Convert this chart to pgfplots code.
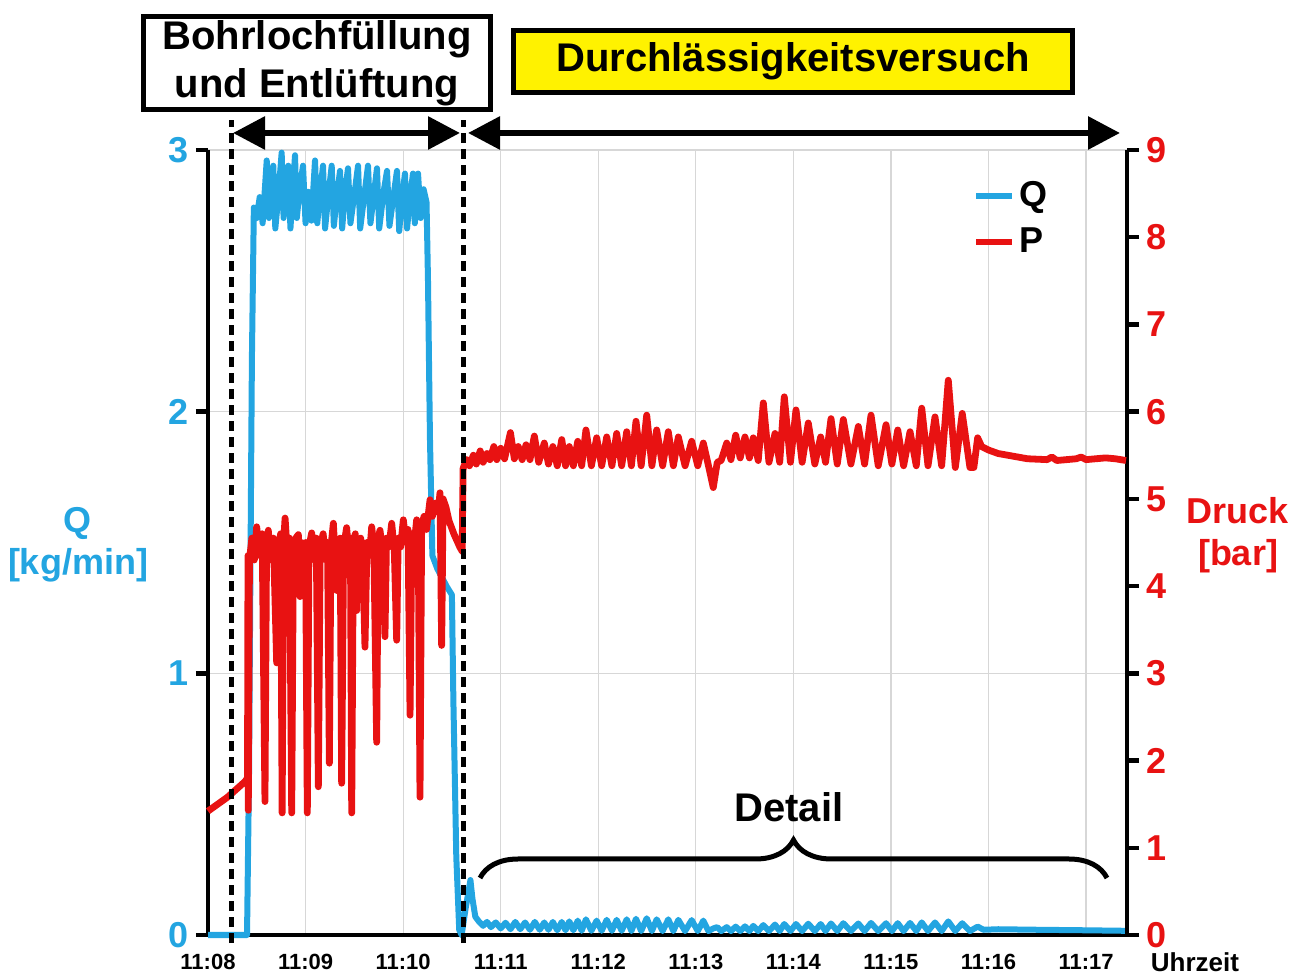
\documentclass[border=0pt]{standalone}
\usepackage{pgfplots}
\pgfplotsset{compat=1.18}
\usepackage{fontspec}
\setmainfont{Liberation Sans}
\usetikzlibrary{arrows.meta,decorations.pathreplacing}
\definecolor{qblue}{RGB}{35,165,225}
\definecolor{pred}{RGB}{232,18,18}
\definecolor{gridgray}{RGB}{215,215,215}
\begin{document}
\begin{tikzpicture}[font=\bfseries]
\useasboundingbox (-104bp,-20.5bp) rectangle (549bp,467.5bp);
\begin{axis}[
  at={(0,0)}, anchor=south west, scale only axis,
  width=459.5bp, height=392.5bp,
  xmin=0, xmax=9.42, ymin=0, ymax=3,
  axis x line*=bottom, axis y line*=left,
  axis line style={black, line width=2.2bp},
  xtick={0,...,9},
  xticklabels={11:08,11:09,11:10,11:11,11:12,11:13,11:14,11:15,11:16,11:17},
  xticklabel style={font=\bfseries\fontsize{11bp}{13bp}\selectfont},
  x tick style={draw=none},
  ytick={0,1,2,3},
  y tick style={black, line width=2.2bp},
  tick align=outside, major tick length=6bp,
  yticklabel style={font=\bfseries\fontsize{18bp}{20bp}\selectfont, text=qblue},
  /pgf/number format/assume math mode=true,
  xmajorgrids, ymajorgrids,
  major grid style={gridgray, line width=0.6bp},
  clip=false,
]
\addplot[qblue, line width=3bp, line join=round] coordinates {
(0.00,0.00) (0.40,0.00) (0.42,0.6) (0.45,2.2) (0.47,2.78) (0.50,2.74) (0.53,2.82) (0.56,2.72)
(0.602,2.96) (0.625,2.74) (0.645,2.85) (0.669,2.94) (0.69,2.70) (0.72,2.82) (0.755,2.99) (0.775,2.74)
(0.80,2.84) (0.823,2.94) (0.845,2.70) (0.865,2.82) (0.892,2.98) (0.91,2.74) (0.94,2.85) (0.974,2.94)
(1.00,2.72) (1.03,2.84) (1.06,2.73) (1.097,2.96) (1.12,2.72) (1.15,2.84) (1.179,2.94) (1.20,2.70)
(1.235,2.83) (1.268,2.94) (1.29,2.71) (1.32,2.82) (1.353,2.92) (1.375,2.70) (1.405,2.84) (1.435,2.93)
(1.46,2.72) (1.50,2.83) (1.538,2.94) (1.56,2.70) (1.60,2.82) (1.640,2.94) (1.665,2.72) (1.70,2.83)
(1.732,2.93) (1.755,2.70) (1.80,2.84) (1.835,2.92) (1.86,2.71) (1.90,2.82) (1.937,2.92) (1.96,2.69)
(1.99,2.82) (2.019,2.91) (2.04,2.70) (2.075,2.83) (2.101,2.91) (2.12,2.72) (2.153,2.91) (2.18,2.74)
(2.21,2.85) (2.24,2.80) (2.255,2.50) (2.275,1.90) (2.30,1.45) (2.35,1.40) (2.45,1.33) (2.50,1.30)
(2.515,0.90) (2.545,0.30) (2.575,0.02) (2.60,0.00) (2.64,0.10) (2.69,0.21) (2.71,0.14) (2.74,0.07)
(2.78,0.050) (2.82,0.035) (2.86,0.050) (2.90,0.030) (2.95,0.048) (3.00,0.025) (3.05,0.047) (3.10,0.022)
(3.15,0.050) (3.20,0.022) (3.25,0.048) (3.30,0.020) (3.35,0.050) (3.40,0.020) (3.447,0.048) (3.49,0.020)
(3.535,0.050) (3.58,0.018) (3.626,0.050) (3.665,0.018) (3.703,0.052) (3.745,0.018) (3.79,0.055) (3.83,0.016)
(3.874,0.060) (3.93,0.016) (3.984,0.055) (4.035,0.016) (4.087,0.058) (4.14,0.016) (4.189,0.058) (4.24,0.016)
(4.292,0.060) (4.34,0.015) (4.387,0.062) (4.44,0.015) (4.497,0.064) (4.55,0.015) (4.599,0.060) (4.66,0.015)
(4.718,0.060) (4.77,0.015) (4.821,0.058) (4.89,0.015) (4.958,0.057) (5.02,0.015) (5.077,0.055) (5.13,0.015)
(5.179,0.025) (5.22,0.030) (5.26,0.015) (5.317,0.030) (5.36,0.015) (5.409,0.032) (5.455,0.015) (5.504,0.033)
(5.55,0.015) (5.589,0.035) (5.64,0.015) (5.692,0.038) (5.75,0.015) (5.812,0.040) (5.86,0.015) (5.907,0.042)
(5.97,0.015) (6.027,0.042) (6.09,0.015) (6.153,0.043) (6.22,0.015) (6.280,0.042) (6.33,0.015) (6.386,0.044)
(6.45,0.015) (6.512,0.045) (6.59,0.015) (6.666,0.044) (6.73,0.015) (6.796,0.046) (6.87,0.015) (6.950,0.045)
(7.01,0.015) (7.070,0.045) (7.13,0.015) (7.196,0.046) (7.26,0.015) (7.316,0.048) (7.38,0.015) (7.452,0.048)
(7.52,0.015) (7.588,0.052) (7.66,0.015) (7.731,0.045) (7.81,0.015) (7.889,0.032) (7.95,0.020) (8.10,0.022)
(8.50,0.020) (9.00,0.018) (9.41,0.016)
};
\end{axis}
\begin{axis}[
  at={(0,0)}, anchor=south west, scale only axis,
  width=459.5bp, height=392.5bp,
  xmin=0, xmax=9.42, ymin=0, ymax=9,
  axis x line=none, axis y line*=right,
  axis line style={black, line width=2.2bp},
  ytick={0,...,9},
  y tick style={black, line width=2.2bp},
  tick align=outside, major tick length=6bp,
  yticklabel style={font=\bfseries\fontsize{18bp}{20bp}\selectfont, text=pred},
  /pgf/number format/assume math mode=true,
  clip=false,
  legend style={draw=none, fill=none, at={(0.832,0.965)}, anchor=north west,
    font=\bfseries\fontsize{18bp}{20bp}\selectfont, row sep=5bp, inner sep=0pt},
  legend cell align=left,
  legend image code/.code={\draw[#1, line width=3bp] (0bp,0bp) -- (18bp,0bp);},
]
\addlegendimage{qblue}
\addlegendentry{Q}
\addplot[pred, line width=3.4bp, line join=round] coordinates {
(0.00,1.42) (0.20,1.58) (0.38,1.76) (0.405,1.80) (0.41,4.35) (0.413,1.43) (0.425,4.30) (0.45,4.55)
(0.475,4.30) (0.499,4.68) (0.53,4.35) (0.555,4.60) (0.584,1.53) (0.60,4.40) (0.618,4.64) (0.645,4.30)
(0.67,4.55) (0.704,3.12) (0.72,4.45) (0.745,4.60) (0.76,1.40) (0.775,4.50) (0.79,4.78) (0.815,4.35)
(0.835,4.55) (0.858,1.40) (0.875,4.40) (0.90,4.55) (0.926,4.59) (0.943,3.88) (0.96,4.50) (0.98,4.30)
(1.00,4.50) (1.018,1.40) (1.035,4.45) (1.063,4.61) (1.09,4.30) (1.11,4.55) (1.131,1.70) (1.15,4.45)
(1.18,4.60) (1.21,4.30) (1.225,4.50) (1.244,1.97) (1.26,4.45) (1.285,4.72) (1.30,4.40) (1.319,3.95)
(1.335,4.50) (1.355,4.55) (1.370,1.74) (1.39,4.45) (1.421,4.67) (1.445,4.35) (1.46,4.55) (1.473,1.40)
(1.49,4.50) (1.51,4.60) (1.524,3.72) (1.54,4.50) (1.565,4.55) (1.585,4.40) (1.609,3.30) (1.63,4.50)
(1.655,4.35) (1.678,4.68) (1.70,4.45) (1.729,2.21) (1.745,4.55) (1.763,4.64) (1.79,4.40) (1.814,3.42)
(1.83,4.55) (1.855,4.45) (1.883,4.72) (1.91,4.40) (1.934,3.38) (1.95,4.55) (1.975,4.45) (2.002,4.76)
(2.03,4.50) (2.05,4.65) (2.071,2.52) (2.09,4.60) (2.115,4.50) (2.139,4.76) (2.155,4.60) (2.173,1.58)
(2.19,4.70) (2.215,4.80) (2.24,4.65) (2.276,4.99) (2.30,4.80) (2.33,4.95) (2.36,4.85) (2.378,5.07)
(2.395,3.32) (2.41,5.00) (2.44,4.90) (2.47,4.75) (2.52,4.60) (2.58,4.45) (2.605,4.40) (2.615,5.35)
(2.65,5.45) (2.68,5.38) (2.72,5.50) (2.75,5.40) (2.79,5.55) (2.82,5.42) (2.86,5.52) (2.89,5.45)
(2.93,5.60) (2.96,5.45) (3.00,5.58) (3.04,5.46) (3.10,5.76) (3.14,5.46) (3.18,5.60) (3.22,5.45)
(3.26,5.62) (3.30,5.45) (3.345,5.72) (3.39,5.42) (3.447,5.64) (3.49,5.40) (3.535,5.60) (3.58,5.38)
(3.626,5.68) (3.665,5.38) (3.703,5.60) (3.745,5.38) (3.790,5.66) (3.83,5.38) (3.874,5.79) (3.93,5.38)
(3.984,5.70) (4.035,5.38) (4.087,5.71) (4.14,5.38) (4.189,5.75) (4.24,5.38) (4.292,5.77) (4.34,5.38)
(4.387,5.89) (4.44,5.38) (4.497,5.96) (4.55,5.38) (4.599,5.79) (4.66,5.38) (4.718,5.77) (4.77,5.38)
(4.821,5.71) (4.89,5.38) (4.958,5.66) (5.02,5.38) (5.077,5.64) (5.13,5.38) (5.179,5.13) (5.22,5.42)
(5.26,5.44) (5.317,5.64) (5.36,5.45) (5.409,5.73) (5.455,5.47) (5.504,5.71) (5.55,5.47) (5.589,5.70)
(5.64,5.44) (5.692,6.10) (5.75,5.42) (5.812,5.75) (5.86,5.42) (5.907,6.17) (5.97,5.42) (6.027,6.02)
(6.09,5.42) (6.153,5.87) (6.22,5.40) (6.280,5.71) (6.33,5.42) (6.386,5.92) (6.45,5.40) (6.512,5.91)
(6.59,5.40) (6.666,5.83) (6.73,5.40) (6.796,5.96) (6.87,5.38) (6.950,5.85) (7.01,5.40) (7.070,5.79)
(7.13,5.38) (7.196,5.77) (7.26,5.38) (7.316,6.04) (7.38,5.38) (7.452,5.94) (7.52,5.38) (7.588,6.36)
(7.66,5.36) (7.731,5.98) (7.81,5.36) (7.85,5.36) (7.889,5.70) (7.93,5.60) (8.00,5.56) (8.10,5.52)
(8.20,5.50) (8.40,5.46) (8.60,5.45) (8.65,5.48) (8.70,5.44) (8.90,5.46) (8.95,5.48) (9.00,5.45)
(9.20,5.47) (9.30,5.46) (9.41,5.44)
};
\addlegendentry{P}
\end{axis}
% phase separators
\draw[black, line width=2.5bp, dash pattern=on 5bp off 3bp] (11.5bp,-4bp) -- (11.5bp,407.5bp);
\draw[black, line width=2.5bp, dash pattern=on 5bp off 3bp] (127.5bp,-4bp) -- (127.5bp,407.5bp);
\draw[line width=3bp, {Triangle[length=16bp,width=16bp]}-{Triangle[length=16bp,width=16bp]}] (12.5bp,401bp) -- (126bp,401bp);
\draw[line width=3bp, {Triangle[length=16bp,width=16bp]}-{Triangle[length=16bp,width=16bp]}] (130bp,401bp) -- (456bp,401bp);
\node[draw=black, line width=2.5bp, fill=white, minimum width=173bp, minimum height=46.5bp, inner sep=0pt,
  align=center, font=\bfseries\fontsize{20bp}{24bp}\selectfont] at (54.5bp,436bp) {Bohrlochfüllung\\und Entlüftung};
\node[draw=black, line width=2.5bp, fill=yellow, minimum width=279.5bp, minimum height=31bp, inner sep=0pt,
  font=\bfseries\fontsize{20bp}{24bp}\selectfont] at (292.5bp,436.75bp) {Durchlässigkeitsversuch};
% detail brace
\draw[line width=2.5bp, decorate, decoration={brace, amplitude=19bp}] (136bp,28.5bp) -- (449.5bp,28.5bp);
\node[font=\bfseries\fontsize{20bp}{24bp}\selectfont] at (290.5bp,64bp) {Detail};
% axis labels
\node[text=qblue, align=center, font=\bfseries\fontsize{18bp}{21bp}\selectfont] at (-65bp,195bp) {Q\\{[kg/min]}};
\node[text=pred, align=center, font=\bfseries\fontsize{18bp}{21bp}\selectfont] at (515bp,200bp) {Druck\\{[bar]}};
\node[font=\bfseries\fontsize{13bp}{15bp}\selectfont] at (493.5bp,-13.5bp) {Uhrzeit};
\end{tikzpicture}
\end{document}
